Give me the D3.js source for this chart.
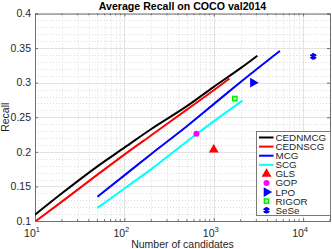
<!DOCTYPE html>
<html>
<head>
<meta charset="utf-8">
<script src="https://cdn.jsdelivr.net/npm/d3@7"></script>
<style>
  body { margin: 0; background: #fff; }
  text { font-family: "Liberation Sans", Arial, sans-serif; fill: #262626; }
</style>
</head>
<body>
<div id="chart"></div>
<script>
/* DATA */
var cednmcgX = [10, 20, 50, 100, 200, 500, 1000, 2000, 3080];
var cednmcgY = [0.109, 0.140, 0.179, 0.206, 0.233, 0.266, 0.294, 0.321, 0.339];
var cednscgX = [10, 20, 50, 100, 200, 500, 1000, 1500];
var cednscgY = [0.099, 0.128, 0.167, 0.196, 0.224, 0.261, 0.289, 0.306];
var mcgX = [50, 100, 200, 500, 1000, 2000, 5500];
var mcgY = [0.135, 0.166, 0.197, 0.237, 0.269, 0.301, 0.346];
var scgX = [50, 100, 200, 500, 1000, 2100];
var scgY = [0.119, 0.147, 0.175, 0.215, 0.244, 0.274];

var pointNames = ["GLS", "GOP", "LPO", "RIGOR", "SeSe"];
var pointX = [1000, 640, 2750, 1720, 13000];
var pointY = [0.203, 0.226, 0.300, 0.277, 0.338];

var xTicks = [10, 100, 1000, 10000];
var xTickExp = ["1", "2", "3", "4"];
var yTicks = [0.1, 0.15, 0.2, 0.25, 0.3, 0.35, 0.4];

/* SETUP */
var width = 332;
var height = 249;
// plot box (note: "top" is reserved on window, so use p-prefixed names)
var pLeft = 35, pRight = 330, pTop = 13.5, pBottom = 221;

var svg = d3.select("#chart")
  .append("svg")
  .attr("width", width)
  .attr("height", height);

var x = d3.scaleLog().domain([10, 20000]).range([pLeft, pRight]);
var y = d3.scaleLinear().domain([0.1, 0.4]).range([pBottom, pTop]);

// minor grid (dotted)
var minorX = [];
[10, 100, 1000, 10000].forEach(function(d) {
  for (var k = 2; k <= 9; k++) if (d * k <= 20000) minorX.push(d * k);
});
var minorY = d3.range(0.11, 0.4, 0.01).filter(function(v) {
  return Math.abs(v * 20 - Math.round(v * 20)) > 0.01;
});

var grid = svg.append("g");
grid.selectAll(".mx").data(minorX).enter().append("line")
  .attr("x1", function(d) { return Math.round(x(d)) + 0.5; })
  .attr("x2", function(d) { return Math.round(x(d)) + 0.5; })
  .attr("y1", pTop).attr("y2", pBottom)
  .attr("stroke", "#dcdcdc").attr("stroke-width", 1)
  .attr("stroke-dasharray", "1,2");
grid.selectAll(".my").data(minorY).enter().append("line")
  .attr("x1", pLeft).attr("x2", pRight)
  .attr("y1", function(d) { return Math.round(y(d)) + 0.5; })
  .attr("y2", function(d) { return Math.round(y(d)) + 0.5; })
  .attr("stroke", "#dcdcdc").attr("stroke-width", 1)
  .attr("stroke-dasharray", "1,2");
// major grid
grid.selectAll(".Mx").data(xTicks).enter().append("line")
  .attr("x1", function(d) { return Math.round(x(d)) + 0.5; })
  .attr("x2", function(d) { return Math.round(x(d)) + 0.5; })
  .attr("y1", pTop).attr("y2", pBottom)
  .attr("stroke", "#e3e3e3").attr("stroke-width", 1);
grid.selectAll(".My").data(yTicks).enter().append("line")
  .attr("x1", pLeft).attr("x2", pRight)
  .attr("y1", function(d) { return Math.round(y(d)) + 0.5; })
  .attr("y2", function(d) { return Math.round(y(d)) + 0.5; })
  .attr("stroke", "#e3e3e3").attr("stroke-width", 1);

// axes (ticks inside)
var axisColor = "#6e6e6e";
var xAxis = d3.axisBottom(x).tickValues(xTicks).tickSize(-3).tickFormat("");
var xAxisTop = d3.axisTop(x).tickValues(xTicks).tickSize(-3).tickFormat("");
var yAxis = d3.axisLeft(y).tickValues(yTicks).tickSize(-3).tickFormat("");
var yAxisRight = d3.axisRight(y).tickValues(yTicks).tickSize(-3).tickFormat("");

function styleAxis(g) {
  g.selectAll("path, line").attr("stroke", axisColor);
}
svg.append("g").attr("transform", "translate(0," + pBottom + ")").call(xAxis).call(styleAxis);
svg.append("g").attr("transform", "translate(0," + pTop + ")").call(xAxisTop).call(styleAxis);
svg.append("g").attr("transform", "translate(" + pLeft + ",0)").call(yAxis).call(styleAxis);
svg.append("g").attr("transform", "translate(" + pRight + ",0)").call(yAxisRight).call(styleAxis);

// minor ticks on log axis
svg.append("g").selectAll("line").data(minorX).enter().append("line")
  .attr("x1", function(d) { return x(d); }).attr("x2", function(d) { return x(d); })
  .attr("y1", pBottom).attr("y2", pBottom - 1.8)
  .attr("stroke", axisColor);
svg.append("g").selectAll("line").data(minorX).enter().append("line")
  .attr("x1", function(d) { return x(d); }).attr("x2", function(d) { return x(d); })
  .attr("y1", pTop).attr("y2", pTop + 1.8)
  .attr("stroke", axisColor);

// tick labels
svg.append("g").selectAll("text").data(yTicks).enter().append("text")
  .attr("x", pLeft - 4)
  .attr("y", function(d) { return y(d) + 3.8; })
  .attr("text-anchor", "end")
  .style("font-size", "10.5px")
  .text(function(d) { return d3.format("")(d); });

var xl = svg.append("g").selectAll("text").data(xTicks).enter().append("text")
  .attr("x", function(d) { return x(d) - 3; })
  .attr("y", 237)
  .attr("text-anchor", "middle")
  .style("font-size", "10.5px");
xl.append("tspan").text("10");
xl.append("tspan")
  .attr("dy", -5)
  .style("font-size", "7.5px")
  .text(function(d, i) { return xTickExp[i]; });

// titles
svg.append("text")
  .attr("x", (pLeft + pRight) / 2)
  .attr("y", 10)
  .attr("text-anchor", "middle")
  .style("font-size", "10.6px")
  .style("font-weight", "bold")
  .style("fill", "#000")
  .text("Average Recall on COCO val2014");

svg.append("text")
  .attr("x", (pLeft + pRight) / 2)
  .attr("y", 247.5)
  .attr("text-anchor", "middle")
  .style("font-size", "10.5px")
  .text("Number of candidates");

svg.append("text")
  .attr("transform", "translate(9," + ((pTop + pBottom) / 2) + ") rotate(-90)")
  .attr("text-anchor", "middle")
  .style("font-size", "10.5px")
  .text("Recall");

// lines
svg.append("clipPath").attr("id", "clip")
  .append("rect").attr("x", pLeft).attr("y", pTop)
  .attr("width", pRight - pLeft).attr("height", pBottom - pTop);
var plot = svg.append("g").attr("clip-path", "url(#clip)");

var line = d3.line()
  .x(function(d) { return x(d[0]); })
  .y(function(d) { return y(d[1]); })
  .curve(d3.curveMonotoneX);

var series = [
  { name: "CEDNMCG", xs: cednmcgX, ys: cednmcgY, color: "#000000" },
  { name: "CEDNSCG", xs: cednscgX, ys: cednscgY, color: "#ff0000" },
  { name: "MCG", xs: mcgX, ys: mcgY, color: "#0000ff" },
  { name: "SCG", xs: scgX, ys: scgY, color: "#00ffff" }
];

// draw bottom-up so black ends on top of red like the original
[3, 2, 1, 0].forEach(function(i) {
  var s = series[i];
  plot.append("path")
    .datum(d3.zip(s.xs, s.ys))
    .attr("d", line)
    .attr("fill", "none")
    .attr("stroke", s.color)
    .attr("stroke-width", 2);
});

// markers
var pointStyle = {
  GLS:   { sym: d3.symbolTriangle, size: 42, fill: "#ff0000", stroke: "none", rot: 0 },
  GOP:   { sym: d3.symbolCircle,   size: 28, fill: "#ff00ff", stroke: "none", rot: 0 },
  LPO:   { sym: d3.symbolTriangle, size: 42, fill: "#0000ff", stroke: "none", rot: 90 },
  RIGOR: { sym: d3.symbolSquare,   size: 18, fill: "#b5ffb5", stroke: "#00ee00", rot: 0 },
  SeSe:  { sym: d3.symbolAsterisk, size: 30, fill: "none",    stroke: "#0000ff", rot: 0 }
};

function drawMarker(g, name, cx, cy) {
  var st = pointStyle[name];
  g.append("path")
    .attr("d", d3.symbol().type(st.sym).size(st.size)())
    .attr("transform", "translate(" + cx + "," + cy + ") rotate(" + st.rot + ")")
    .attr("fill", st.fill)
    .attr("stroke", st.stroke)
    .attr("stroke-width", name === "SeSe" ? 2.2 : 1.5);
}

pointNames.forEach(function(n, i) {
  drawMarker(plot, n, x(pointX[i]), y(pointY[i]));
});

// legend
var lg = svg.append("g");
lg.append("rect")
  .attr("x", 256.5).attr("y", 131.5)
  .attr("width", 74).attr("height", 84)
  .attr("fill", "#fff")
  .attr("stroke", "#7a7a7a");

var legendNames = series.map(function(s) { return s.name; }).concat(pointNames);
legendNames.forEach(function(n, i) {
  var cy = 137.5 + i * 9.1;
  if (i < 4) {
    lg.append("line")
      .attr("x1", 259).attr("x2", 273.5)
      .attr("y1", cy).attr("y2", cy)
      .attr("stroke", series[i].color)
      .attr("stroke-width", 2);
  } else {
    drawMarker(lg, n, 266.5, cy);
  }
  lg.append("text")
    .attr("x", 275.5)
    .attr("y", cy + 3.4)
    .style("font-size", "9.8px")
    .text(n);
});
</script>
</body>
</html>
